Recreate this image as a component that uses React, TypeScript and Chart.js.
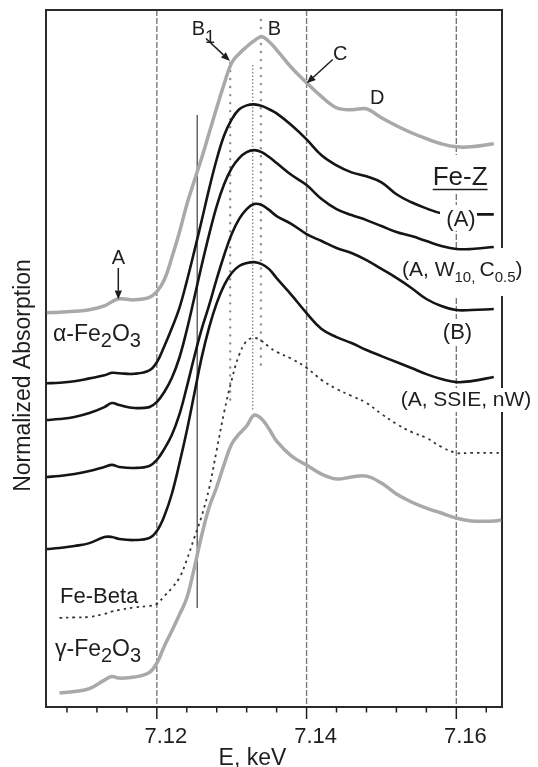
import React, { useEffect, useRef } from 'react';
import { Chart, registerables } from 'chart.js';

Chart.register(...registerables);

const FONT = '"Liberation Sans", Arial, Helvetica, sans-serif';

// Photon energy grid, keV
const energy = [
  7.1053, 7.107, 7.109, 7.111, 7.113, 7.114, 7.115, 7.117, 7.119, 7.12,
  7.121, 7.122, 7.123, 7.124, 7.125, 7.126, 7.127, 7.128, 7.129, 7.13,
  7.131, 7.132, 7.133, 7.134, 7.135, 7.136, 7.138, 7.14, 7.142, 7.144,
  7.146, 7.148, 7.15, 7.152, 7.154, 7.156, 7.158, 7.16, 7.162, 7.165,
  7.166,
];

// Normalized Fe K-edge absorption of each sample
const alphaFe2O3 = [
  0, 0.003, 0.009, 0.018, 0.041, 0.065, 0.082, 0.076, 0.091, 0.124,
  0.194, 0.324, 0.471, 0.635, 0.776, 0.912, 1.059, 1.206, 1.347, 1.471,
  1.524, 1.565, 1.6, 1.624, 1.594, 1.547, 1.441, 1.353, 1.271, 1.206,
  1.194, 1.2, 1.147, 1.1, 1.059, 1.024, 0.994, 0.976, 0.976, 0.994,
  null,
];
const feZ_A = [
  0, 0.003, 0.012, 0.029, 0.047, 0.062, 0.059, 0.056, 0.076, 0.124,
  0.218, 0.324, 0.441, 0.6, 0.776, 0.959, 1.147, 1.318, 1.459, 1.553,
  1.612, 1.635, 1.641, 1.632, 1.612, 1.588, 1.518, 1.435, 1.341, 1.282,
  1.241, 1.218, 1.182, 1.112, 1.065, 1.029, 1.0, 0.994, 0.994, 0.994,
  null,
];
const feZ_A_W10_C05 = [
  0, 0.006, 0.018, 0.041, 0.076, 0.1, 0.088, 0.071, 0.076, 0.106,
  0.165, 0.247, 0.365, 0.529, 0.718, 0.912, 1.094, 1.259, 1.388, 1.482,
  1.541, 1.576, 1.588, 1.576, 1.547, 1.512, 1.441, 1.382, 1.3, 1.241,
  1.206, 1.176, 1.141, 1.106, 1.082, 1.053, 1.024, 1.006, 1.006, 1.018,
  null,
];
const feZ_B = [
  0, 0.006, 0.018, 0.035, 0.059, 0.071, 0.059, 0.053, 0.065, 0.1,
  0.165, 0.247, 0.365, 0.529, 0.706, 0.871, 1.012, 1.165, 1.306, 1.429,
  1.518, 1.576, 1.606, 1.6, 1.571, 1.535, 1.488, 1.429, 1.388, 1.347,
  1.318, 1.276, 1.224, 1.171, 1.112, 1.047, 1.006, 0.982, 0.982, 0.988,
  null,
];
const feZ_A_SSIE_nW = [
  0, 0.006, 0.018, 0.035, 0.071, 0.071, 0.059, 0.053, 0.065, 0.106,
  0.194, 0.324, 0.5, 0.694, 0.912, 1.129, 1.306, 1.447, 1.553, 1.624,
  1.665, 1.682, 1.688, 1.676, 1.647, 1.594, 1.494, 1.388, 1.294, 1.247,
  1.212, 1.171, 1.135, 1.1, 1.065, 1.029, 1.0, 0.982, 0.988, 1.012,
  null,
];
const feBeta = [
  null, 0, 0.003, 0.006, 0.024, 0.038, 0.047, 0.062, 0.071, 0.082,
  0.129, 0.176, 0.235, 0.341, 0.471, 0.6, 0.765, 0.988, 1.212, 1.4,
  1.547, 1.629, 1.647, 1.629, 1.594, 1.565, 1.524, 1.471, 1.4, 1.347,
  1.306, 1.265, 1.2, 1.141, 1.094, 1.059, 1.006, 0.971, 0.971, 0.971,
  0.971,
];
const gammaFe2O3 = [
  null, 0, 0.009, 0.026, 0.076, 0.097, 0.088, 0.094, 0.121, 0.176,
  0.276, 0.365, 0.459, 0.559, 0.735, 0.929, 1.094, 1.212, 1.347, 1.465,
  1.524, 1.571, 1.635, 1.612, 1.553, 1.482, 1.394, 1.341, 1.288, 1.259,
  1.271, 1.276, 1.235, 1.171, 1.124, 1.088, 1.059, 1.029, 1.012, 1.012,
  1.018,
];

// Vertical stacking offsets, top to bottom
const stackOffsets = [2.319, 1.904, 1.688, 1.353, 0.929, 0.524, 0.082];

// Axis ticks (keV)
const majorTicks = [7.12, 7.14, 7.16];
const minorTicks = [
  7.108, 7.112, 7.116, 7.124, 7.128, 7.132, 7.136, 7.144, 7.148, 7.152, 7.156, 7.164,
];
const tickLabels = ['7.12', '7.14', '7.16'];

// Feature markers: B1 shoulder, main-peak positions, edge position (keV)
const markerB1 = 7.1298;
const markerPeakFine = 7.1328;
const markerPeakB = 7.1339;
const markerEdge = 7.1254;
// vertical extents of the markers in absorption units [top, bottom]
const markerB1Span = [3.788, 1.806];
const markerPeakFineSpan = [3.776, 1.747];
const markerPeakBSpan = [4.041, 1.982];
const markerEdgeSpan = [3.482, 0.582];

const Y_MAX = 4.1;

function series(values: (number | null)[], offset: number) {
  return energy.map((e, i) => ({ x: e, y: values[i] == null ? null : (values[i] as number) + offset }));
}

function vline(e: number, span: number[]) {
  return [{ x: e, y: span[0] }, { x: e, y: span[1] }];
}

type Seg = { t: string; size: number; dy?: number };

function drawSegs(ctx: CanvasRenderingContext2D, segs: Seg[], x: number, y: number, align: 'left' | 'center' = 'left') {
  let w = 0;
  segs.forEach((s) => {
    ctx.font = `${s.size}px ${FONT}`;
    w += ctx.measureText(s.t).width;
  });
  let cx = align === 'center' ? x - w / 2 : x;
  ctx.textAlign = 'left';
  ctx.textBaseline = 'alphabetic';
  segs.forEach((s) => {
    ctx.font = `${s.size}px ${FONT}`;
    ctx.fillText(s.t, cx, y + (s.dy || 0));
    cx += ctx.measureText(s.t).width;
  });
  return w;
}

function arrow(ctx: CanvasRenderingContext2D, x1: number, y1: number, x2: number, y2: number) {
  const ang = Math.atan2(y2 - y1, x2 - x1);
  const len = 9;
  const half = 3.6;
  const bx = x2 - len * Math.cos(ang);
  const by = y2 - len * Math.sin(ang);
  ctx.beginPath();
  ctx.moveTo(x1, y1);
  ctx.lineTo(bx, by);
  ctx.stroke();
  ctx.beginPath();
  ctx.moveTo(x2, y2);
  ctx.lineTo(bx + half * Math.sin(ang), by - half * Math.cos(ang));
  ctx.lineTo(bx - half * Math.sin(ang), by + half * Math.cos(ang));
  ctx.closePath();
  ctx.fill();
}

const framePlugin = {
  id: 'xanesFrame',
  beforeDatasetsDraw(chart: any) {
    const { ctx, chartArea: a, scales } = chart;
    const x = scales.x;
    ctx.save();
    // dashed guide lines at the labelled energies
    ctx.strokeStyle = '#7a7a7a';
    ctx.lineWidth = 1.4;
    ctx.setLineDash([6, 2]);
    majorTicks.forEach((e) => {
      const px = x.getPixelForValue(e);
      ctx.beginPath();
      ctx.moveTo(px, a.top);
      ctx.lineTo(px, a.bottom);
      ctx.stroke();
    });
    ctx.setLineDash([]);
    // plot frame
    ctx.strokeStyle = '#2a2a2a';
    ctx.lineWidth = 2;
    ctx.strokeRect(a.left, a.top, a.right - a.left, a.bottom - a.top);
    // label backgrounds on the right-hand side
    ctx.fillStyle = '#ffffff';
    ctx.fillRect(430, 155, 64, 38);
    ctx.fillRect(440, 248, 96, 48);
    ctx.fillRect(440, 319, 36, 27);
    ctx.fillRect(440, 388, 96, 24);
    ctx.restore();
  },
  afterDatasetsDraw(chart: any) {
    const { ctx, chartArea: a, scales } = chart;
    const x = scales.x;
    ctx.save();
    ctx.fillStyle = '#ffffff';
    ctx.fillRect(440, 205, 37, 26);

    ctx.fillStyle = '#1e1e1e';
    ctx.strokeStyle = '#1e1e1e';
    ctx.lineWidth = 1.5;

    // ticks
    minorTicks.forEach((e) => {
      const px = x.getPixelForValue(e);
      ctx.beginPath();
      ctx.moveTo(px, a.bottom);
      ctx.lineTo(px, a.bottom + 5.5);
      ctx.stroke();
    });
    majorTicks.forEach((e, i) => {
      const px = x.getPixelForValue(e);
      ctx.beginPath();
      ctx.moveTo(px, a.bottom);
      ctx.lineTo(px, a.bottom + 12);
      ctx.stroke();
      drawSegs(ctx, [{ t: tickLabels[i], size: 22 }], px + 9, 743, 'center');
    });

    // axis titles
    drawSegs(ctx, [{ t: 'E, keV', size: 23 }], 252.5, 764.5, 'center');
    ctx.save();
    ctx.translate(29.5, 375.5);
    ctx.rotate(-Math.PI / 2);
    drawSegs(ctx, [{ t: 'Normalized Absorption', size: 23 }], 0, 0, 'center');
    ctx.restore();

    // feature letters and arrows
    drawSegs(ctx, [{ t: 'B', size: 20 }, { t: '1', size: 18, dy: 8 }], 191.7, 35);
    arrow(ctx, 206, 38.5, 230, 61);
    drawSegs(ctx, [{ t: 'B', size: 20 }], 274.5, 34.5, 'center');
    drawSegs(ctx, [{ t: 'C', size: 20 }], 333, 60);
    arrow(ctx, 332.7, 59.5, 306.7, 83.3);
    drawSegs(ctx, [{ t: 'D', size: 20 }], 370, 103.5);
    drawSegs(ctx, [{ t: 'A', size: 20 }], 118.5, 264, 'center');
    arrow(ctx, 118.3, 268, 118.3, 299.5);

    // sample labels
    const w = drawSegs(ctx, [{ t: 'Fe-Z', size: 26 }], 432.7, 185);
    ctx.beginPath();
    ctx.lineWidth = 1.6;
    ctx.moveTo(432.7, 189.5);
    ctx.lineTo(432.7 + w, 189.5);
    ctx.stroke();
    drawSegs(ctx, [{ t: '(A)', size: 22 }], 461, 225.5, 'center');
    drawSegs(
      ctx,
      [
        { t: '(A, W', size: 21 },
        { t: '10', size: 15, dy: 6 },
        { t: ', ', size: 15, dy: 6 },
        { t: 'C', size: 21 },
        { t: '0.5', size: 15, dy: 6 },
        { t: ')', size: 21 },
      ],
      402,
      275.5,
    );
    drawSegs(ctx, [{ t: '(B)', size: 22 }], 457.5, 338.5, 'center');
    drawSegs(ctx, [{ t: '(A, SSIE, nW)', size: 21 }], 466, 406, 'center');
    drawSegs(
      ctx,
      [
        { t: 'α-Fe', size: 23 },
        { t: '2', size: 20, dy: 6 },
        { t: 'O', size: 23 },
        { t: '3', size: 20, dy: 6 },
      ],
      53,
      340.5,
    );
    drawSegs(ctx, [{ t: 'Fe-Beta', size: 22 }], 60, 603);
    drawSegs(
      ctx,
      [
        { t: 'γ-Fe', size: 23 },
        { t: '2', size: 20, dy: 6 },
        { t: 'O', size: 23 },
        { t: '3', size: 20, dy: 6 },
      ],
      55,
      656,
    );
    ctx.restore();
  },
};

const GRAY = '#a9a9a9';
const BLACK = '#151515';

function spectrum(label: string, values: (number | null)[], offset: number, color: string, width: number, dash: number[] = []) {
  return {
    label,
    data: series(values, offset),
    borderColor: color,
    borderWidth: width,
    borderDash: dash,
    borderJoinStyle: 'round' as const,
    pointRadius: 0,
    fill: false,
    spanGaps: false,
    tension: 0.4,
  };
}

function marker(label: string, e: number, span: number[], color: string, width: number, dash: number[], cap: CanvasLineCap) {
  return {
    label,
    data: vline(e, span),
    borderColor: color,
    borderWidth: width,
    borderDash: dash,
    borderCapStyle: cap,
    pointRadius: 0,
    fill: false,
    tension: 0,
  };
}

export default function App() {
  const ref = useRef<HTMLCanvasElement>(null);

  useEffect(() => {
    if (!ref.current) return;
    const chart = new Chart(ref.current, {
      type: 'line',
      data: {
        datasets: [
          spectrum('α-Fe2O3', alphaFe2O3, stackOffsets[0], GRAY, 3.5),
          spectrum('Fe-Z (A)', feZ_A, stackOffsets[1], BLACK, 2.6),
          spectrum('Fe-Z (A, W10, C0.5)', feZ_A_W10_C05, stackOffsets[2], BLACK, 2.6),
          spectrum('Fe-Z (B)', feZ_B, stackOffsets[3], BLACK, 2.6),
          spectrum('Fe-Z (A, SSIE, nW)', feZ_A_SSIE_nW, stackOffsets[4], BLACK, 2.6),
          spectrum('Fe-Beta', feBeta, stackOffsets[5], '#333333', 1.8, [2.5, 4]),
          spectrum('γ-Fe2O3', gammaFe2O3, stackOffsets[6], GRAY, 3.5),
          marker('B1', markerB1, markerB1Span, '#8c8c8c', 2.4, [0.01, 8], 'round'),
          marker('B fine', markerPeakFine, markerPeakFineSpan, '#8c8c8c', 1.4, [1.5, 2], 'butt'),
          marker('B', markerPeakB, markerPeakBSpan, '#8c8c8c', 2.4, [0.01, 8], 'round'),
          marker('edge', markerEdge, markerEdgeSpan, '#666666', 1.5, [], 'butt'),
        ],
      },
      options: {
        responsive: false,
        maintainAspectRatio: false,
        animation: false,
        layout: { padding: { left: 46, right: 36, top: 10, bottom: 60 } },
        scales: {
          x: { type: 'linear', min: 7.1052, max: 7.1661, display: false },
          y: { type: 'linear', min: 0, max: Y_MAX, display: false },
        },
        plugins: {
          legend: { display: false },
          tooltip: { enabled: false },
        },
      },
      plugins: [framePlugin],
    });
    return () => chart.destroy();
  }, []);

  return (
    <div style={{ position: 'fixed', left: 0, top: 0, width: 538, height: 767, background: '#fff' }}>
      <canvas ref={ref} width={538} height={767} style={{ display: 'block', width: 538, height: 767 }} />
    </div>
  );
}
